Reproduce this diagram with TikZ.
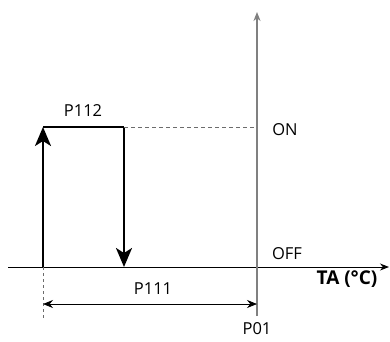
\documentclass[tikz,border=0pt]{standalone}
\usepackage{fontspec}
\setmainfont{Open Sans}
\usetikzlibrary{arrows.meta}

\begin{document}
\begin{tikzpicture}[x=1pt, y=-1pt,
    lbl/.style={font=\fontsize{16.5}{18}\selectfont, inner sep=0pt},
    relay/.style={line width=2.3pt, -{Stealth[length=19pt, width=16pt, inset=5pt]}},
    helper/.style={gray!85!black, line width=1pt, dash pattern=on 4pt off 3pt}]
    \useasboundingbox (0,0) rectangle (390,341);
    % axes
    \coordinate (xa) at (8,267);
    \coordinate (xb) at (389,267);
    \coordinate (ya) at (257,316);
    \coordinate (yb) at (257,12);
    \draw[line width=1pt, -{Stealth[length=9pt, width=7pt]}] (xa) -- (xb);
    \draw[gray, line width=1.5pt, -{Stealth[length=9pt, width=7pt]}] (ya) -- (yb);
    % switching points
    \coordinate (offa) at (43,267);
    \coordinate (ona) at (43,127);
    \coordinate (onb) at (124,127);
    \coordinate (offb) at (124,267);
    \coordinate (onaxis) at (257,127);
    \coordinate (dimlow) at (43,318);
    \coordinate (dima) at (43,304);
    \coordinate (dimb) at (257,304);
    \draw[relay] (offa) -- (ona);
    \draw[line width=2.3pt] (ona) -- (onb);
    \draw[relay] (onb) -- (offb);
    \draw[helper] (onb) -- (onaxis);
    \draw[helper, line width=0.7pt, dash pattern=on 3pt off 3pt] (offa) -- (dimlow);
    \draw[line width=0.8pt, {Stealth[length=10pt, width=8pt]}-{Stealth[length=10pt, width=8pt]}] (dima) -- (dimb);
    % labels
    \node[lbl] (p112) at (83,111) {P112};
    \node[lbl] (p111) at (153,289) {P111};
    \node[lbl] (on) at (285,130) {ON};
    \node[lbl] (off) at (287,254) {OFF};
    \node[lbl, font=\fontsize{19}{21}\selectfont\bfseries] (ta) at (347,279) {TA (°C)};
    \node[lbl] (p01) at (257,329) {P01};
\end{tikzpicture}
\end{document}
